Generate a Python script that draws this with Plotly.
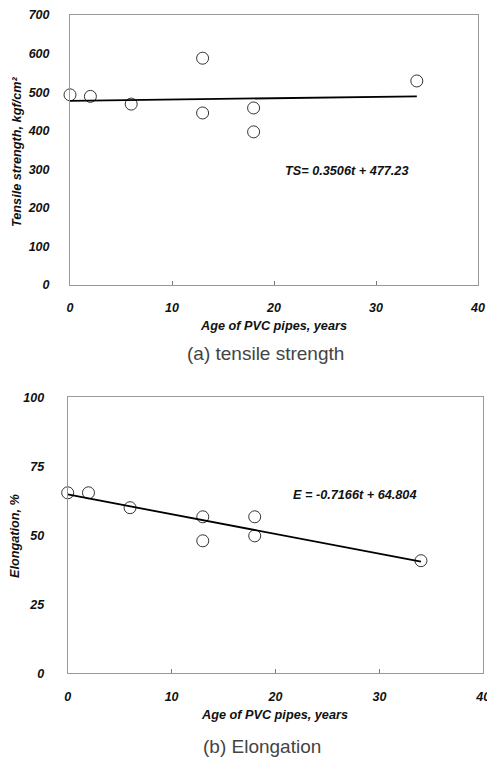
import plotly.graph_objects as go

# Data
age_a = [0, 2, 6, 13, 13, 18, 18, 34]
tensile = [493, 489, 469, 588, 446, 459, 397, 529]
age_b = [0, 2, 6, 13, 13, 18, 18, 34]
elong = [65.4, 65.4, 60.0, 56.7, 48.0, 56.7, 49.8, 40.8]

ts_slope, ts_int = 0.3506, 477.23
e_slope, e_int = -0.7166, 64.804
fit_x = [0, 34]

W, H = 487, 759
def px(x): return x / W
def py(y): return 1 - y / H

tick_font = dict(family="Liberation Sans, Arial", size=12.5, color="#111",
                 weight="bold", style="italic")

fig = go.Figure()
mk = dict(symbol="circle-open", size=12, color="#333", line=dict(width=1))
fig.add_trace(go.Scatter(x=age_a, y=tensile, mode="markers", marker=mk,
                         xaxis="x", yaxis="y", showlegend=False, cliponaxis=False))
fig.add_trace(go.Scatter(x=fit_x, y=[ts_int + ts_slope * t for t in fit_x], mode="lines",
                         line=dict(color="#000", width=1.8), xaxis="x", yaxis="y",
                         showlegend=False))
fig.add_trace(go.Scatter(x=age_b, y=elong, mode="markers", marker=mk,
                         xaxis="x2", yaxis="y2", showlegend=False, cliponaxis=False))
fig.add_trace(go.Scatter(x=fit_x, y=[e_int + e_slope * t for t in fit_x], mode="lines",
                         line=dict(color="#000", width=1.8), xaxis="x2", yaxis="y2",
                         showlegend=False))

axcommon = dict(showgrid=False, zeroline=False, showline=True, mirror=True,
                linecolor="#999", linewidth=1, tickfont=tick_font, automargin=False,
                ticklabeloverflow="allow")

fig.update_layout(
    template="none",
    width=W, height=H, margin=dict(l=0, r=0, t=0, b=0),
    paper_bgcolor="white", plot_bgcolor="white",
    xaxis=dict(domain=[px(70), px(478)], range=[0, 40], dtick=10, anchor="y",
               ticks="inside", ticklen=4, tickcolor="#777", ticklabelstandoff=11, **axcommon),
    yaxis=dict(domain=[py(285), py(15)], range=[0, 700], dtick=100, anchor="x",
               ticks="", ticklabelstandoff=17, **axcommon),
    xaxis2=dict(domain=[px(67.7), px(483.3)], range=[0, 40], dtick=10, anchor="y2",
                ticks="inside", ticklen=4, tickcolor="#777", ticklabelstandoff=12, **axcommon),
    yaxis2=dict(domain=[py(673.3), py(397.3)], range=[0, 100], dtick=25, anchor="x2",
                ticks="", ticklabelstandoff=20, **axcommon),
)

lab_font = dict(family="Liberation Sans, Arial", size=12.7, color="#111",
                weight="bold", style="italic")
cap_font = dict(family="Liberation Sans, Arial", size=19, color="#444")

def ann(text, x, y, font, angle=0):
    fig.add_annotation(text=text, x=px(x), y=py(y), xref="paper", yref="paper",
                       showarrow=False, font=font, textangle=angle,
                       xanchor="center", yanchor="middle")

ann("TS= 0.3506t + 477.23", 346, 171, lab_font)
ann("E = -0.7166t + 64.804", 354, 495, lab_font)
ann("Age of PVC pipes, years", 273, 326, lab_font)
ann("Age of PVC pipes, years", 274, 715, lab_font)
ann("Tensile strength, kgf/cm²", 17, 152, lab_font, -90)
ann("Elongation, %", 15, 536, lab_font, -90)
ann("(a) tensile strength", 265, 353, cap_font)
ann("(b) Elongation", 262, 746, cap_font)

fig.write_html("out.html")
